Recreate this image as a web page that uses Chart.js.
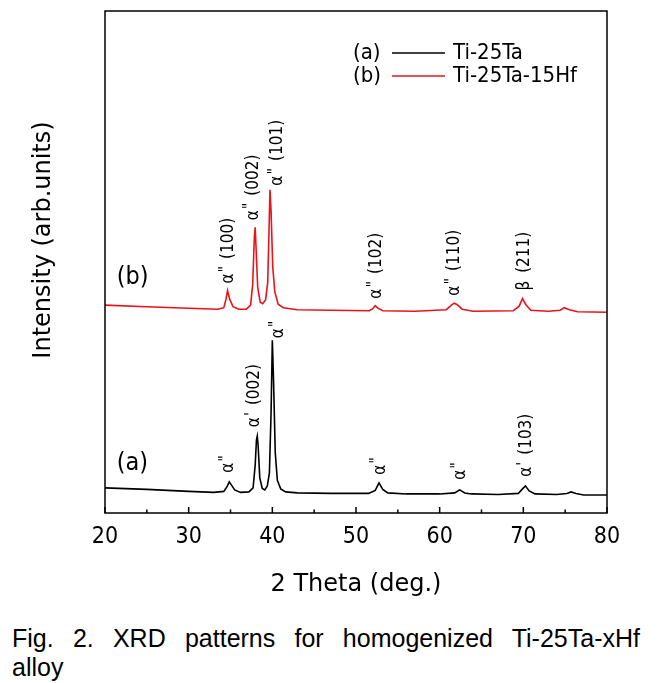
<!DOCTYPE html>
<html>
<head>
<meta charset="utf-8">
<script src="https://cdn.jsdelivr.net/npm/chart.js@4/dist/chart.umd.min.js"></script>
<style>
  body { margin: 0; background: #fff; }
  #wrap { position: relative; width: 658px; height: 683px; overflow: hidden; }
  #caption {
    position: absolute; left: 12px; top: 624px; width: 628px;
    font: 25px "Liberation Sans", Arial, sans-serif; line-height: 29px; color: #000;
  }
  #caption .l1 { text-align: justify; text-align-last: justify; }
</style>
</head>
<body>
<div id="wrap">
  <canvas id="xrd" width="658" height="600"></canvas>
  <div id="caption"><div class="l1">Fig. 2. XRD patterns for homogenized Ti-25Ta-xHf</div><div>alloy</div></div>
</div>
<script>
// (a) Ti-25Ta
const thetaA = [20, 25, 30, 33, 34.2, 34.6, 34.85, 35.1, 35.5, 36.2, 37.2, 37.7, 37.95, 38.1, 38.2, 38.3, 38.5, 38.8, 39.1, 39.4, 39.65, 39.85, 40.0, 40.15, 40.35, 40.6, 41.0, 41.6, 43, 47, 51.5, 52.3, 52.75, 53.2, 53.8, 56, 60, 61.8, 62.4, 63.0, 63.8, 67, 69.4, 69.9, 70.25, 70.7, 71.4, 74, 75.2, 75.7, 76.3, 77.2, 80];
const intensityA = [5.0, 4.7, 4.3, 4.1, 4.3, 5.3, 6.2, 5.6, 4.6, 4.1, 4.2, 5.0, 9.5, 14.5, 15.3, 13.5, 7.0, 4.9, 4.6, 5.4, 8.0, 20.0, 34.4, 26.0, 12.0, 6.5, 4.8, 4.2, 4.0, 3.9, 3.9, 4.5, 6.0, 4.7, 4.0, 3.8, 3.8, 4.0, 4.6, 4.0, 3.8, 3.7, 3.9, 4.8, 5.4, 4.4, 3.8, 3.7, 3.9, 4.2, 3.9, 3.6, 3.6];

// (b) Ti-25Ta-15Hf
const thetaB = [20, 25, 30, 33.5, 34.2, 34.45, 34.65, 34.9, 35.3, 36.0, 36.9, 37.4, 37.65, 37.85, 37.95, 38.05, 38.25, 38.55, 38.85, 39.2, 39.45, 39.6, 39.72, 39.85, 40.05, 40.3, 40.7, 41.3, 43, 47, 51.6, 52.0, 52.3, 52.6, 53.2, 57, 60.8, 61.4, 61.75, 62.1, 62.7, 64, 68.8, 69.5, 69.9, 70.3, 70.9, 73, 74.4, 74.9, 75.5, 76.5, 80];
const intensityB = [41.4, 41.1, 40.8, 40.6, 40.9, 42.5, 44.3, 42.6, 41.1, 40.6, 40.6, 41.4, 45.5, 55.0, 56.9, 53.0, 45.0, 42.0, 41.7, 42.5, 46.0, 56.0, 64.4, 60.0, 49.0, 44.0, 41.6, 40.9, 40.5, 40.4, 40.3, 40.7, 41.3, 40.8, 40.3, 40.2, 40.5, 41.4, 41.8, 41.5, 40.6, 40.2, 40.3, 41.2, 42.7, 41.5, 40.4, 40.2, 40.4, 40.9, 40.5, 40.1, 40.0];

const seriesTags = ["(a)", "(b)"];
const seriesNames = ["Ti-25Ta", "Ti-25Ta-15Hf"];
const xTicks = [20, 30, 40, 50, 60, 70, 80];

// peak labels: text, 2theta, intensity where the label starts
const peakTextA = ['α"', "α' (002)", 'α"', 'α"', 'α"', "α' (103)"];
const peakThetaA = [34.8, 37.9, 40.8, 52.9, 62.5, 70.4];
const peakBaseA = [8.0, 17.1, 34.8, 7.6, 6.6, 7.2];
const peakTextB = ['α" (100)', 'α" (002)', 'α" (101)', 'α" (102)', 'α" (110)', "β (211)"];
const peakThetaB = [34.8, 37.7, 40.6, 52.5, 61.8, 70.1];
const peakBaseB = [45.7, 58.3, 65.2, 42.7, 43.3, 44.3];

const COND = '"DejaVu Sans Condensed", "DejaVu Sans", sans-serif';
const WIDE = '"DejaVu Sans", sans-serif';
const colors = ["#000000", "#e8141c"];

const pts = (xs, ys) => xs.map((x, i) => ({ x: x, y: ys[i] }));

// symbol, raised prime marks, then the (hkl) part
function drawPeakLabel(ctx, s) {
  const sp = s.indexOf(" ");
  const head = sp < 0 ? s : s.slice(0, sp);
  const tail = sp < 0 ? "" : s.slice(sp + 1);
  const sym = head[0];
  const primes = head.slice(1);
  ctx.font = "17px " + COND;
  ctx.fillText(sym, 0, 0);
  let pos = ctx.measureText(sym).width + 1;
  if (primes) {
    ctx.font = "16px " + COND;
    ctx.fillText(primes, pos, -3);
    pos += ctx.measureText(primes).width;
  }
  if (tail) {
    ctx.font = "17px " + COND;
    ctx.fillText(tail, pos + 7, 0);
  }
}

const decor = {
  id: "decor",
  afterDraw(chart) {
    const { ctx, chartArea: a, scales: { x, y } } = chart;
    ctx.save();
    ctx.strokeStyle = "#000";
    ctx.lineWidth = 1.5;
    ctx.strokeRect(a.left, a.top, a.right - a.left, a.bottom - a.top);

    // ticks pointing inward
    x.ticks.forEach((t) => {
      const px = x.getPixelForValue(t.value);
      const len = t.value % 10 === 0 ? 6 : 3.5;
      ctx.beginPath();
      ctx.moveTo(px, a.bottom);
      ctx.lineTo(px, a.bottom - len);
      ctx.stroke();
    });

    // y title
    ctx.fillStyle = "#000";
    ctx.font = "24px " + WIDE;
    ctx.textAlign = "center";
    ctx.textBaseline = "middle";
    ctx.translate(44, 240);
    ctx.rotate(-Math.PI / 2);
    ctx.fillText("Intensity (arb.units)", 0, 0);
    ctx.setTransform(1, 0, 0, 1, 0, 0);

    // peak labels
    ctx.textAlign = "left";
    const drawPeaks = (texts, thetas, bases) => {
      texts.forEach((s, i) => {
        ctx.save();
        ctx.translate(x.getPixelForValue(thetas[i]), y.getPixelForValue(bases[i]));
        ctx.rotate(-Math.PI / 2);
        drawPeakLabel(ctx, s);
        ctx.restore();
      });
    };
    drawPeaks(peakTextA, peakThetaA, peakBaseA);
    drawPeaks(peakTextB, peakThetaB, peakBaseB);

    // (a) / (b) next to curves
    ctx.font = "25px " + COND;
    ctx.fillText(seriesTags[0], x.getPixelForValue(21.4), y.getPixelForValue(9.9));
    ctx.fillText(seriesTags[1], x.getPixelForValue(21.4), y.getPixelForValue(46.9));

    // legend
    ctx.font = "22px " + COND;
    seriesNames.forEach((name, i) => {
      const yy = a.top + 42 + i * 23;
      ctx.fillStyle = "#000";
      ctx.fillText(seriesTags[i], a.left + 248, yy);
      ctx.strokeStyle = colors[i];
      ctx.lineWidth = 1.5;
      ctx.beginPath();
      ctx.moveTo(a.left + 287, yy);
      ctx.lineTo(a.left + 340, yy);
      ctx.stroke();
      ctx.fillText(name, a.left + 348, yy);
    });
    ctx.restore();
  }
};

new Chart(document.getElementById("xrd"), {
  type: "line",
  data: {
    datasets: [
      { label: seriesNames[0], data: pts(thetaA, intensityA), borderColor: colors[0], borderWidth: 1.6, pointRadius: 0, tension: 0 },
      { label: seriesNames[1], data: pts(thetaB, intensityB), borderColor: colors[1], borderWidth: 1.6, pointRadius: 0, tension: 0 }
    ]
  },
  options: {
    responsive: false,
    animation: false,
    layout: { padding: { top: 11, right: 51, left: 0, bottom: 0 } },
    plugins: { legend: { display: false }, tooltip: { enabled: false } },
    scales: {
      x: {
        type: "linear",
        min: 20,
        max: 80,
        ticks: {
          stepSize: 5,
          padding: 10,
          color: "#000",
          font: { family: COND, size: 23 },
          maxRotation: 0,
          autoSkip: false,
          callback: (v) => (xTicks.includes(v) ? String(v) : "")
        },
        grid: { display: false, drawTicks: false },
        border: { display: false },
        title: { display: true, text: "2 Theta (deg.)", color: "#000", font: { family: WIDE, size: 24 }, padding: { top: 0, bottom: 1 } },
        afterFit: (s) => { s.height = 87; }
      },
      y: {
        min: 0,
        max: 100,
        ticks: { display: false },
        grid: { display: false, drawTicks: false },
        border: { display: false },
        afterFit: (s) => { s.width = 105; }
      }
    }
  },
  plugins: [decor]
});
</script>
</body>
</html>
